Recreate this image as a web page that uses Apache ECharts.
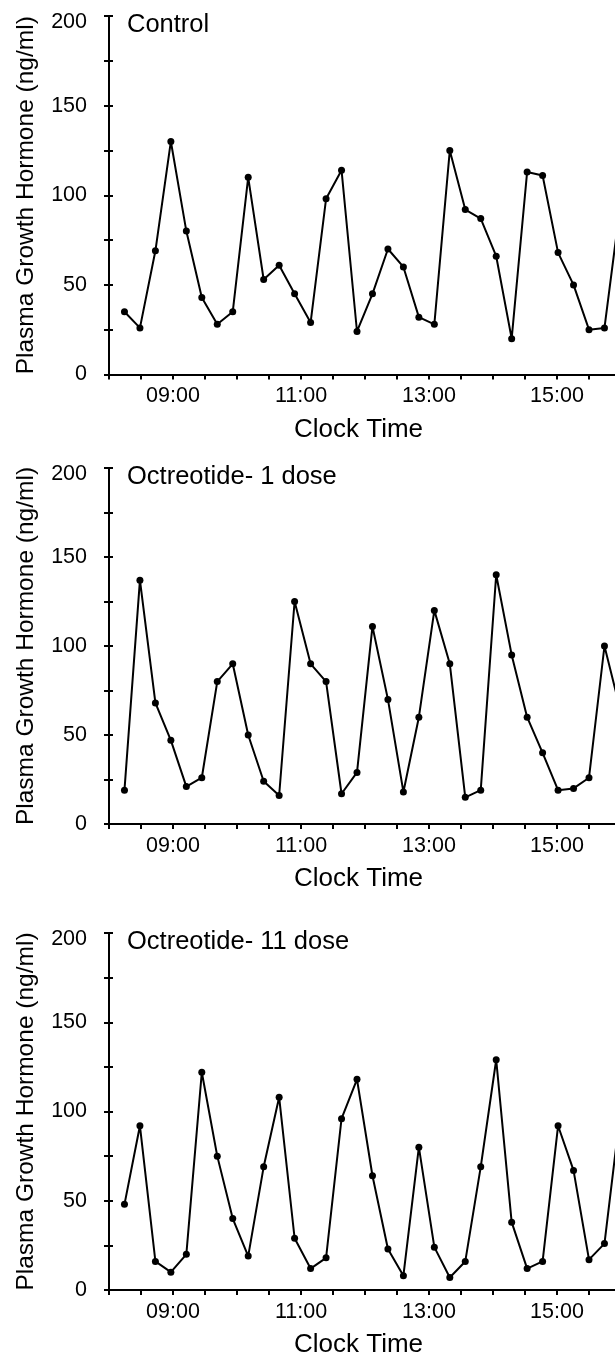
<!DOCTYPE html>
<html>
<head>
<meta charset="utf-8">
<title>Plasma Growth Hormone</title>
<script src="https://cdn.jsdelivr.net/npm/echarts@6/dist/echarts.min.js"></script>
<style>
  html, body { margin: 0; padding: 0; background: #fff; }
  #chart { width: 615px; height: 1359px; }
</style>
</head>
<body>
<div id="chart"></div>
<script>
// sample times in minutes after midnight (the last one sits just past the right edge)
const times = [494.5, 509, 523.5, 538, 552.5, 567, 581.5, 596, 610.5, 625, 639.5,
  654, 669, 683.5, 698, 712.5, 727, 741.5, 756, 770.5, 785, 799.5, 814, 828.5,
  843, 857.5, 872, 886.5, 901, 915.5, 930, 944.5, 959];

// plasma growth hormone, ng/ml
const control = [35, 26, 69, 130, 80, 43, 28, 35, 110, 53, 61, 45, 29, 98, 114, 24,
  45, 70, 60, 32, 28, 125, 92, 87, 66, 20, 113, 111, 68, 50, 25, 26, 93];
const dose1 = [19, 137, 68, 47, 21, 26, 80, 90, 50, 24, 16, 125, 90, 80, 17, 29,
  111, 70, 18, 60, 120, 90, 15, 19, 140, 95, 60, 40, 19, 20, 26, 100, 65];
const dose11 = [48, 92, 16, 10, 20, 122, 75, 40, 19, 69, 108, 29, 12, 18, 96, 118,
  64, 23, 8, 80, 24, 7, 16, 69, 129, 38, 12, 16, 92, 67, 17, 26, 98];

const panelTitles = ['Control', 'Octreotide- 1 dose', 'Octreotide- 11 dose'];
const yTickLabels = [0, 50, 100, 150, 200];
const xTickLabels = ['09:00', '11:00', '13:00', '15:00'];

const seriesData = [control, dose1, dose11];

// panel placement
const tops = [16, 468, 933];
const heights = [358.5, 356, 357];

const FONT = "'Liberation Sans', Arial, sans-serif";

const fmtTime = v => {
  const h = Math.floor(v / 60);
  const m = Math.round(v % 60);
  return (h < 10 ? '0' : '') + h + ':' + (m < 10 ? '0' : '') + m;
};

const chart = echarts.init(document.getElementById('chart'), null, { renderer: 'canvas' });

const grids = [];
const xAxes = [];
const yAxes = [];
const series = [];
const titles = [];

seriesData.forEach((vals, i) => {
  // the plot runs past the right edge of the page, as in the source figure
  grids.push({
    left: 109, top: tops[i], width: 512, height: heights[i],
    containLabel: false, outerBoundsMode: 'none'
  });

  xAxes.push({
    type: 'value',
    gridIndex: i,
    min: 480,
    max: 960,
    interval: 30,
    name: 'Clock Time',
    nameLocation: 'middle',
    nameGap: 42,
    nameTextStyle: { fontFamily: FONT, fontSize: 26, color: '#000', padding: [0, 13, 0, 0] },
    axisLine: { show: true, lineStyle: { color: '#000', width: 2 } },
    axisTick: { show: true, length: 5, lineStyle: { color: '#000', width: 2 } },
    axisLabel: {
      margin: 11,
      fontFamily: FONT,
      fontSize: 21.5,
      color: '#000',
      formatter: v => (xTickLabels.indexOf(fmtTime(v)) >= 0 ? fmtTime(v) : '')
    },
    splitLine: { show: false }
  });

  // main left axis: line, outer ticks, labels, title
  yAxes.push({
    type: 'value',
    gridIndex: i,
    position: 'left',
    min: 0,
    max: 200,
    interval: 25,
    name: 'Plasma Growth Hormone (ng/ml)',
    nameLocation: 'middle',
    nameRotate: 90,
    nameGap: 70,
    nameTextStyle: { fontFamily: FONT, fontSize: 24.5, color: '#000' },
    axisLine: { show: true, lineStyle: { color: '#000', width: 2 } },
    axisTick: { show: true, length: 5, lineStyle: { color: '#000', width: 2 } },
    axisLabel: {
      margin: 22,
      fontFamily: FONT,
      fontSize: 21.5,
      color: '#000',
      formatter: v => {
        if (yTickLabels.indexOf(v) < 0) return '';
        return v === 200 ? '{t|200}' : String(v);
      },
      rich: { t: { fontFamily: FONT, fontSize: 21.5, color: '#000', padding: [13, 0, 0, 0] } }
    },
    splitLine: { show: false }
  });
  // twin axis only for the inner half of the crossing ticks
  yAxes.push({
    type: 'value',
    gridIndex: i,
    position: 'left',
    min: 0,
    max: 200,
    interval: 25,
    axisLine: { show: false },
    axisTick: { show: true, inside: true, length: 4, lineStyle: { color: '#000', width: 2 } },
    axisLabel: { show: false },
    splitLine: { show: false }
  });

  series.push({
    type: 'line',
    xAxisIndex: i,
    yAxisIndex: i * 2,
    data: times.map((t, k) => [t, vals[k]]),
    symbol: 'circle',
    symbolSize: 7,
    showAllSymbol: true,
    itemStyle: { color: '#000' },
    lineStyle: { color: '#000', width: 2 },
    z: 3
  });

  titles.push({
    text: panelTitles[i],
    left: 127,
    top: tops[i] - 4,
    padding: 0,
    textStyle: { fontFamily: FONT, fontSize: 25.5, fontWeight: 'normal', color: '#000' }
  });
});

chart.setOption({
  animation: false,
  backgroundColor: '#fff',
  title: titles,
  grid: grids,
  xAxis: xAxes,
  yAxis: yAxes,
  series: series
});

window.addEventListener('resize', () => chart.resize());
</script>
</body>
</html>
